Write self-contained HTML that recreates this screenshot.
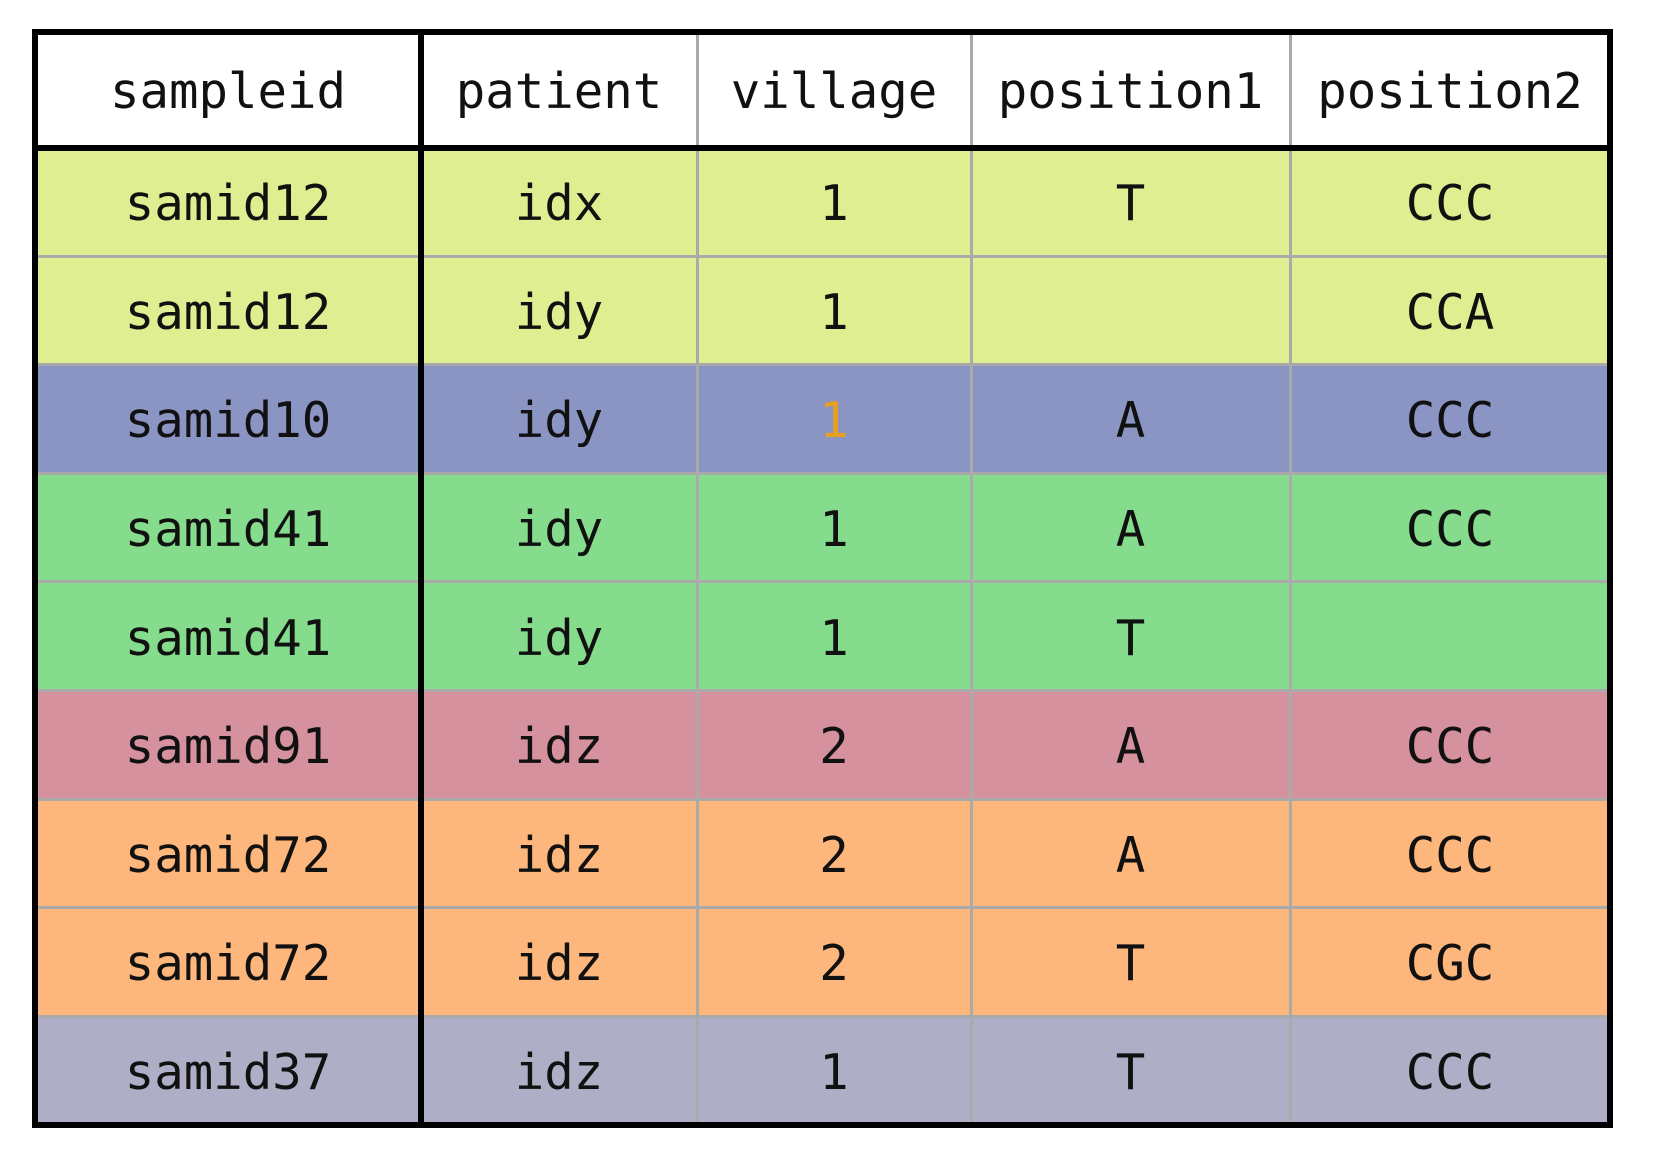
<!DOCTYPE html>
<html><head><meta charset="utf-8"><style>
body{margin:0;width:1654px;height:1166px;background:#fff;position:relative;overflow:hidden;font-family:"DejaVu Sans Mono","Liberation Mono",monospace;}
.c{position:absolute;display:flex;align-items:center;justify-content:center;font-size:49px;color:#111;box-sizing:border-box;padding-top:4px;}
.l{position:absolute;}
</style></head><body>
<div id="t"></div>
<script>
const headers=["sampleid","patient","village","position1","position2"];
const rows=[
["samid12","idx","1","T","CCC"],
["samid12","idy","1","","CCA"],
["samid10","idy","1","A","CCC"],
["samid41","idy","1","A","CCC"],
["samid41","idy","1","T",""],
["samid91","idz","2","A","CCC"],
["samid72","idz","2","A","CCC"],
["samid72","idz","2","T","CGC"],
["samid37","idz","1","T","CCC"]];
const colors=["#e0ee92","#e0ee92","#8a95c4","#84dc8c","#84dc8c","#d6919e","#fdb77c","#fdb77c","#aeafc6"];
const xs=[35,421,697,971,1290,1610];
const top0=32,hH=115.5,rH=108.6;
const t=document.getElementById('t');
function cell(x,y,w,h,txt,bg,name,color){
 const d=document.createElement('div');d.className='c';
 d.style.cssText+=`left:${x}px;top:${y}px;width:${w}px;height:${h}px;background:${bg};`;
 if(color)d.style.color=color;
 d.textContent=txt;
 
 
 t.appendChild(d);
}
headers.forEach((h,i)=>cell(xs[i],top0,xs[i+1]-xs[i],hH,h,'#fff','header-'+h));
rows.forEach((r,ri)=>{
 const y=top0+hH+ri*rH;
 r.forEach((v,ci)=>{
  cell(xs[ci],y,xs[ci+1]-xs[ci],rH,v,colors[ri],'cell-r'+(ri+1)+'-'+headers[ci],(ri==2&&ci==2)?'#e8a020':null);
 });
});
function line(x,y,w,h,c,name){
 const d=document.createElement('div');d.className='l';
 d.style.cssText=`left:${x}px;top:${y}px;width:${w}px;height:${h}px;background:${c};`;
 
 
 t.appendChild(d);
}
const bottom=top0+hH+rows.length*rH;
for(let i=2;i<5;i++)line(xs[i]-1.5,top0,3,bottom-top0,'#aaa','col-divider');
for(let r=1;r<rows.length;r++)line(xs[0],top0+hH+r*rH-1.5,xs[5]-xs[0],3,'#aaa','row-divider');
line(xs[1]-3,top0,6,bottom-top0,'#000','first-col-divider');
line(xs[0],top0+hH-3,xs[5]-xs[0],6,'#000','header-divider');
line(xs[0]-3,top0-3,xs[5]-xs[0]+6,6,'#000','border-top');
line(xs[0]-3,bottom-3,xs[5]-xs[0]+6,6,'#000','border-bottom');
line(xs[0]-3,top0-3,6,bottom-top0+6,'#000','border-left');
line(xs[5]-3,top0-3,6,bottom-top0+6,'#000','border-right');
</script>
</body></html>
